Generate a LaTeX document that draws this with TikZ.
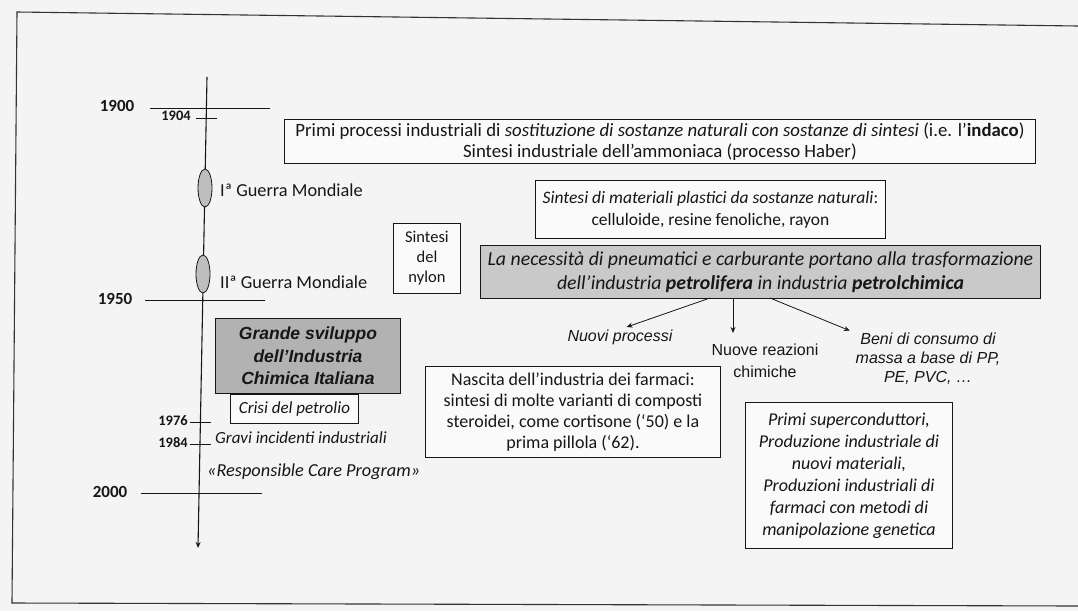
\documentclass[tikz,border=0pt]{standalone}
\usepackage{fontspec}
\setmainfont{Carlito}
\newfontfamily\arialf{Liberation Sans}
\usetikzlibrary{arrows.meta,shapes.geometric}
\definecolor{pagebg}{HTML}{F4F4F4}
\definecolor{ink}{HTML}{161616}
\definecolor{ellfill}{HTML}{BEBEBE}
\definecolor{boxgrey}{HTML}{C9C9C9}
\definecolor{darkgrey}{HTML}{B2B2B2}
\definecolor{boxwhite}{HTML}{FAFAFA}
\definecolor{frameline}{HTML}{333333}
\begin{document}
\begin{tikzpicture}[x=1pt,y=-1pt,
  every node/.style={text=ink},
  box/.style={draw=ink, line width=0.9pt, fill=boxwhite, inner sep=0pt, anchor=north west, align=center},
  lbl/.style={inner sep=0pt, anchor=west},
  bigyear/.style={inner sep=0pt, font=\bfseries\fontsize{17}{20}\selectfont},
  smallyear/.style={inner sep=0pt, font=\bfseries\fontsize{14.5}{16}\selectfont},
  war/.style={draw=ink, line width=0.8pt, fill=ellfill, ellipse, minimum width=14pt, minimum height=38pt, inner sep=0pt},
  tick/.style={draw=ink, line width=0.8pt},
  arr/.style={draw=ink, line width=0.8pt, -{Stealth[length=6pt,width=5pt]}}
]
\useasboundingbox (0,0) rectangle (1078,611);
\fill[pagebg] (0,0) rectangle (1078,611);
% frame
\draw[frameline, line width=1.1pt] (1078,26) -- (17,12) -- (12,603) -- (1078,606);

% timeline
\coordinate (ttop) at (207,77);
\coordinate (tbot) at (198,548);
\draw[arr, line width=1.1pt] (ttop) -- (tbot);

% years and ticks
\node[bigyear] (y1900) at (117,106) {1900};
\coordinate (k1900a) at (150,108); \coordinate (k1900b) at (270,108);
\draw[tick] (k1900a) -- (k1900b);
\node[smallyear] (y1904) at (176,116) {1904};
\coordinate (k1904a) at (196,118); \coordinate (k1904b) at (217,118);
\draw[tick] (k1904a) -- (k1904b);
\node[bigyear] (y1950) at (115,299) {1950};
\coordinate (k1950a) at (145,300); \coordinate (k1950b) at (265,300);
\draw[tick] (k1950a) -- (k1950b);
\node[smallyear] (y1976) at (173,421) {1976};
\coordinate (k1976a) at (190,422); \coordinate (k1976b) at (211,422);
\draw[tick] (k1976a) -- (k1976b);
\node[smallyear] (y1984) at (173,443) {1984};
\coordinate (k1984a) at (190,444); \coordinate (k1984b) at (211,444);
\draw[tick] (k1984a) -- (k1984b);
\node[bigyear] (y2000) at (110,492) {2000};
\coordinate (k2000a) at (141,493); \coordinate (k2000b) at (262,493);
\draw[tick] (k2000a) -- (k2000b);

% wars
\node[war] (w1) at (205,188) {};
\node[war] (w2) at (203,274) {};
\node[lbl, font=\fontsize{18.3}{20}\selectfont] (w1l) at (220,190) {Iª Guerra Mondiale};
\node[lbl, font=\fontsize{18.3}{20}\selectfont] (w2l) at (220,282) {IIª Guerra Mondiale};

% right boxes
\node[box, minimum width=751pt, minimum height=44pt, font=\fontsize{18.8}{21}\selectfont] (boxA) at (284,119)
  {Primi processi industriali di \textit{sostituzione di sostanze naturali con sostanze di sintesi} (i.e. l’\textbf{indaco})\\Sintesi industriale dell’ammoniaca (processo Haber)};
\node[box, minimum width=350pt, minimum height=58pt, font=\fontsize{17.5}{22}\selectfont] (boxB) at (535,180)
  {\textit{Sintesi di materiali plastici da sostanze naturali}:\\celluloide, resine fenoliche, rayon};
\node[box, minimum width=67pt, minimum height=70pt, font=\fontsize{16.5}{20}\selectfont] (nylon) at (393,223)
  {Sintesi\\del\\nylon};
\node[box, fill=boxgrey, minimum width=560pt, minimum height=53pt, font=\itshape\fontsize{19.8}{23.5}\selectfont] (boxC) at (480,245)
  {La necessità di pneumatici e carburante portano alla trasformazione\\dell’industria \textbf{petrolifera} in industria \textbf{petrolchimica}};

% left boxes
\node[box, fill=darkgrey, minimum width=185pt, minimum height=75pt, font=\arialf\bfseries\itshape\fontsize{17.5}{22.5}\selectfont] (grande) at (215,318)
  {Grande sviluppo\\dell’Industria\\Chimica Italiana};
\node[box, minimum width=128pt, minimum height=29pt, font=\itshape\fontsize{17}{20}\selectfont] (crisi) at (230,394)
  {Crisi del petrolio};
\node[lbl, font=\itshape\fontsize{17}{20}\selectfont] (gravi) at (215,438) {Gravi incidenti industriali};
\node[lbl, font=\itshape\fontsize{18.3}{20}\selectfont] (rcp) at (207,472) {«Responsible Care Program»};

% branches
\node[inner sep=0pt, font=\arialf\itshape\fontsize{16}{19}\selectfont] (np) at (620,337) {Nuovi processi};
\node[inner sep=0pt, align=center, font=\arialf\fontsize{16}{22}\selectfont] (nr) at (765,361) {Nuove reazioni\\chimiche};
\node[inner sep=0pt, align=center, font=\arialf\itshape\fontsize{16}{19}\selectfont] (bc) at (928,359) {Beni di consumo di\\massa a base di PP,\\PE, PVC, …};
\coordinate (oL) at (710,298);
\coordinate (oM) at (733,298);
\coordinate (oR) at (770,298);
\draw[arr, shorten >=7pt] (oL) -- (np.north);
\draw[arr, shorten >=11pt] (oM) -- (oM |- nr.north);
\draw[arr, shorten >=6pt] (oR) -- (bc.north west);

% lower boxes
\node[box, minimum width=295pt, minimum height=91pt, font=\fontsize{18}{21}\selectfont] (farm) at (425,366)
  {Nascita dell’industria dei farmaci:\\sintesi di molte varianti di composti\\steroidei, come cortisone (‘50) e la\\prima pillola (‘62).};
\node[box, minimum width=207pt, minimum height=146pt, font=\itshape\fontsize{18}{22}\selectfont] (superc) at (745,402)
  {Primi superconduttori,\\Produzione industriale di\\nuovi materiali,\\Produzioni industriali di\\farmaci con metodi di\\manipolazione genetica};
\end{tikzpicture}
\end{document}
